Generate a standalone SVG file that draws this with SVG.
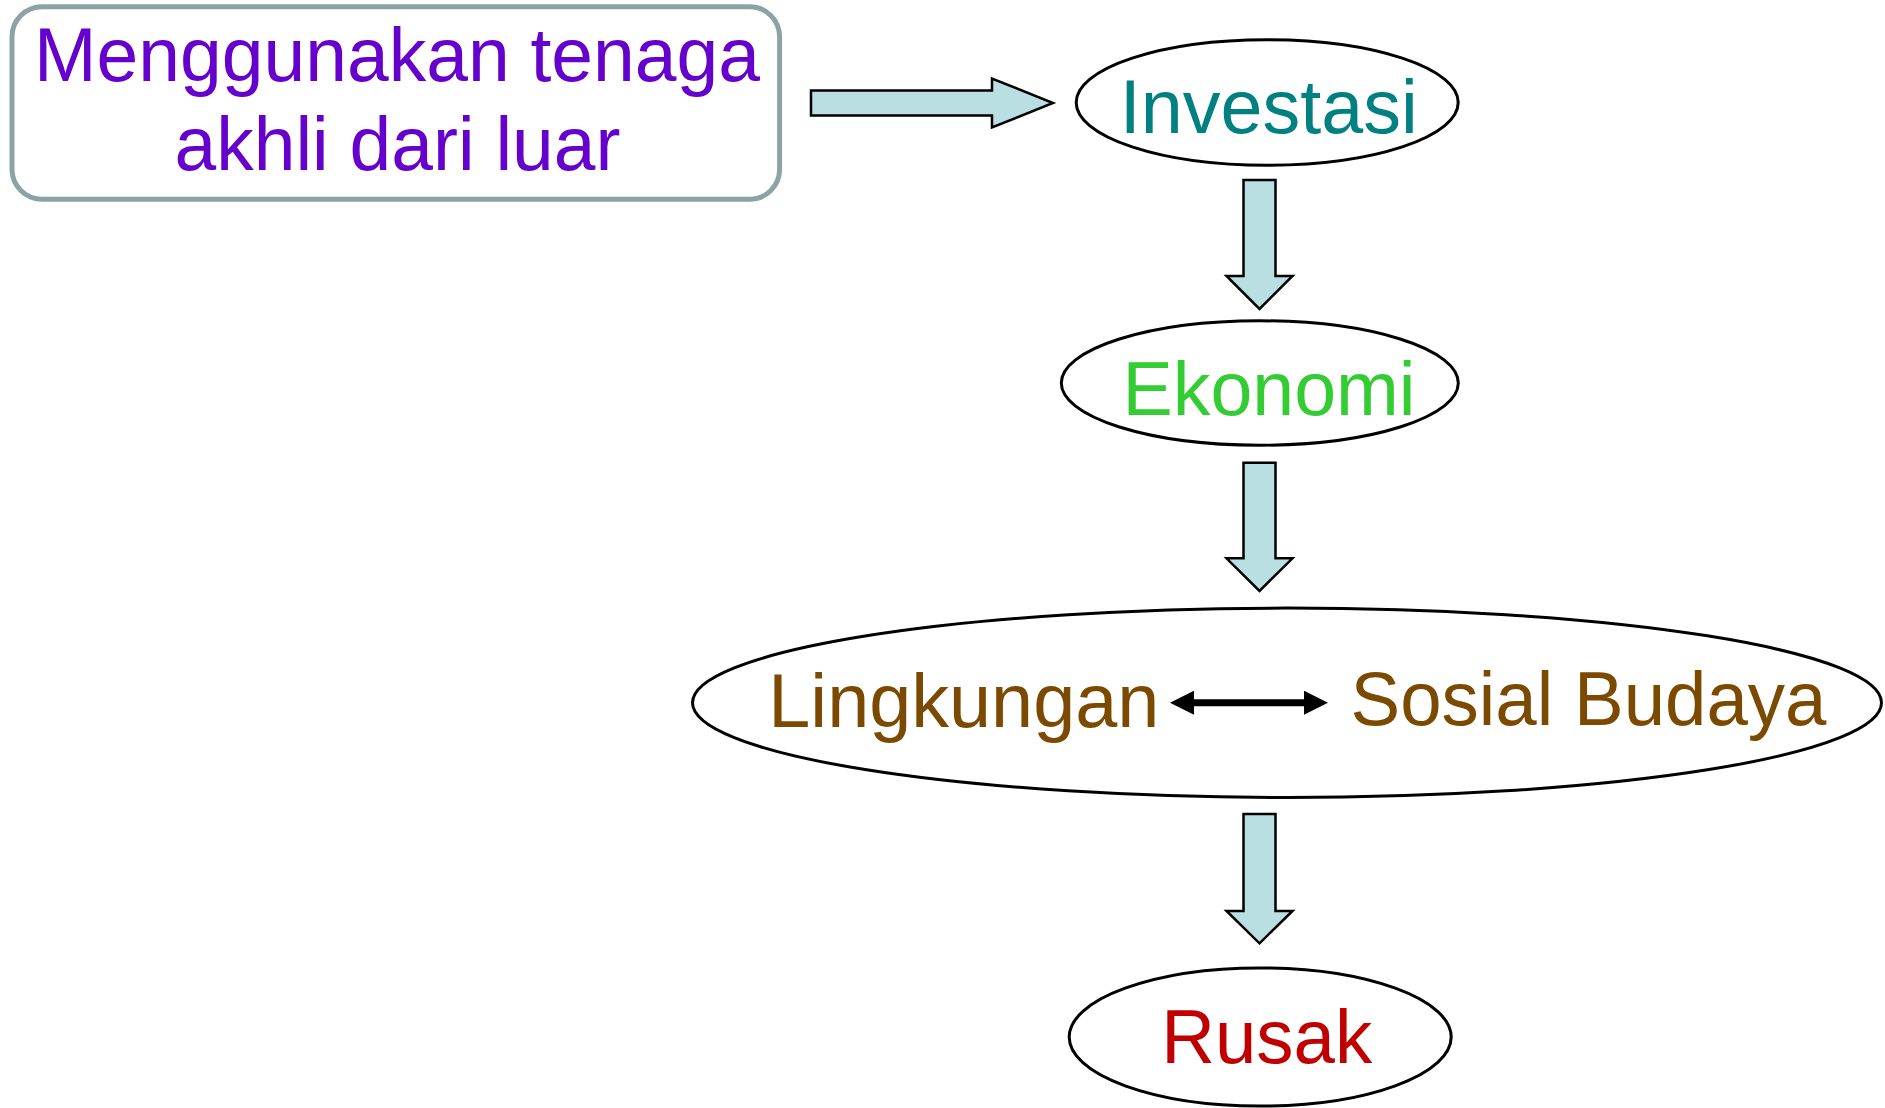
<svg xmlns="http://www.w3.org/2000/svg" width="1885" height="1108" viewBox="0 0 1885 1108">
  <style>
    .lbl { font-family: "Liberation Sans", Arial, sans-serif; font-size: 76px; }
    .node { fill: #FFFFFF; stroke: #000000; stroke-width: 3; }
    .blk { fill: #B9DFE3; stroke: #000000; stroke-width: 2.5; stroke-linejoin: miter; }
    .dbl { stroke: #000000; stroke-width: 7; fill: none; }
  </style>
  <defs>
    <marker id="head" viewBox="0 0 24 24" refX="1" refY="12" markerWidth="24" markerHeight="24" markerUnits="userSpaceOnUse" orient="auto-start-reverse">
      <path d="M0,0 L24,12 L0,24 Z" fill="#000000"/>
    </marker>
  </defs>
  <rect width="1885" height="1108" fill="#FFFFFF"/>

  <g id="node-tenaga">
    <rect x="12" y="6.7" width="767.6" height="192.6" rx="30" ry="30" fill="#FFFFFF" stroke="#8CA3A5" stroke-width="5"/>
    <text class="lbl" x="397" y="81" text-anchor="middle" fill="#6600CC" textLength="726" lengthAdjust="spacingAndGlyphs">Menggunakan tenaga</text>
    <text class="lbl" x="397.5" y="170" text-anchor="middle" fill="#6600CC" textLength="446" lengthAdjust="spacingAndGlyphs">akhli dari luar</text>
  </g>

  <g id="node-investasi">
    <ellipse class="node" cx="1267.2" cy="102.5" rx="191" ry="62.7"/>
    <text class="lbl" x="1268.8" y="132.7" text-anchor="middle" fill="#008080" textLength="298" lengthAdjust="spacingAndGlyphs">Investasi</text>
  </g>

  <g id="node-ekonomi">
    <ellipse class="node" cx="1259.8" cy="383" rx="198.5" ry="62.2"/>
    <text class="lbl" x="1269" y="415" text-anchor="middle" fill="#33CC33" textLength="293" lengthAdjust="spacingAndGlyphs">Ekonomi</text>
  </g>

  <g id="node-lingkungan-sosial">
    <ellipse class="node" cx="1287" cy="702.8" rx="594.5" ry="94.7"/>
    <text class="lbl" x="768.3" y="726.7" fill="#7B4A00" textLength="391" lengthAdjust="spacingAndGlyphs">Lingkungan</text>
    <text class="lbl" x="1350.5" y="725" fill="#7B4A00" textLength="476" lengthAdjust="spacingAndGlyphs">Sosial Budaya</text>
  </g>

  <g id="node-rusak">
    <ellipse class="node" cx="1260.2" cy="1037" rx="191" ry="69"/>
    <text class="lbl" x="1266.7" y="1063" text-anchor="middle" fill="#C00000" textLength="211" lengthAdjust="spacingAndGlyphs">Rusak</text>
  </g>

  <g id="connectors">
    <path class="blk" d="M811,90.5 H992 V78.5 L1053,103 L992,127.5 V115.5 H811 Z"/>
    <path class="blk" d="M1243.5,180 H1275.5 V276 H1292.5 L1259.5,309 L1226.5,276 H1243.5 Z"/>
    <path class="blk" d="M1243.5,462.7 H1275.5 V558.3 H1292.5 L1259.5,591 L1226.5,558.3 H1243.5 Z"/>
    <path class="blk" d="M1243.5,814 H1275.5 V911 H1292.5 L1259.5,943.3 L1226.5,911 H1243.5 Z"/>
    <line class="dbl" x1="1193" y1="702.7" x2="1305" y2="702.7" marker-start="url(#head)" marker-end="url(#head)"/>
  </g>
</svg>
